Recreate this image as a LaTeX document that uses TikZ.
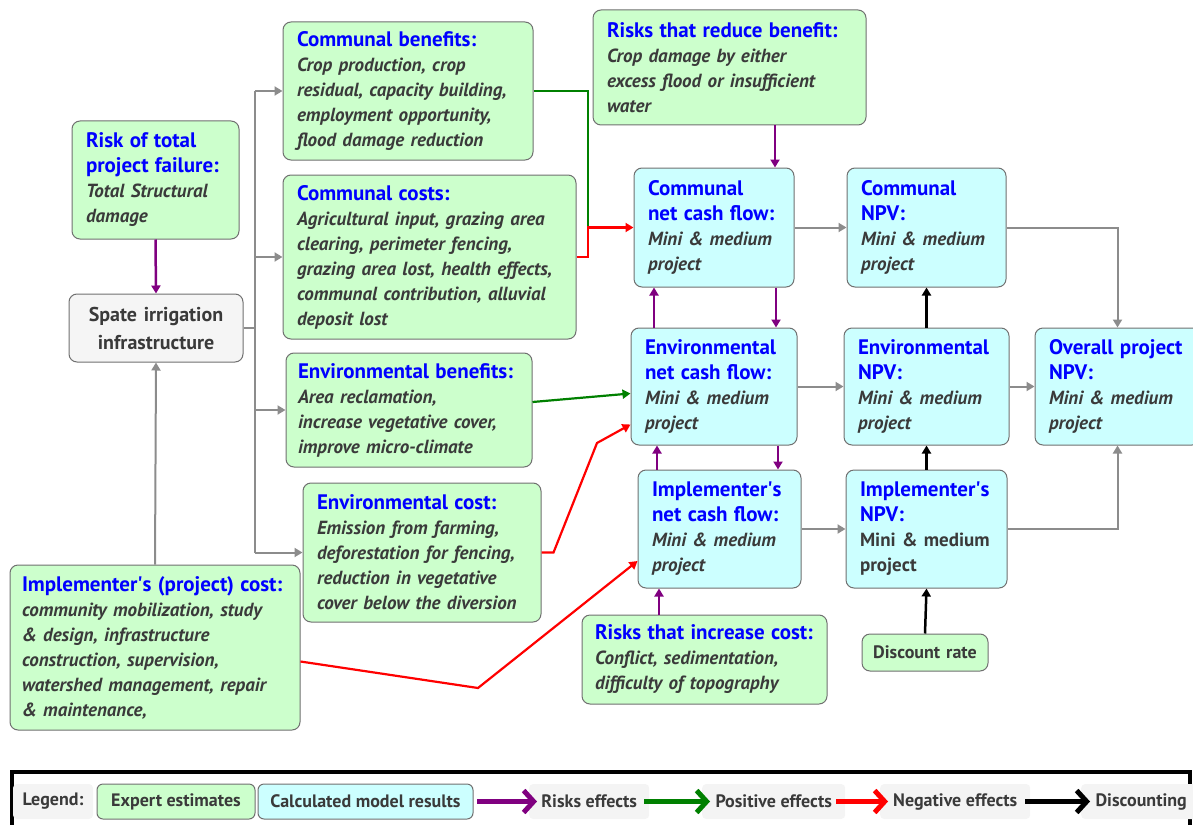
\documentclass[tikz,border=0pt]{standalone}
\usepackage{fontspec}
\setmainfont{PT Sans}
\usetikzlibrary{arrows.meta,calc}
\definecolor{expg}{HTML}{CCFFCC}
\definecolor{calcc}{HTML}{CCFFFF}
\definecolor{bord}{HTML}{707070}
\definecolor{tblue}{HTML}{0000FF}
\definecolor{txt}{HTML}{3A3A3A}
\definecolor{gline}{HTML}{8C8C8C}
\definecolor{riskc}{HTML}{800080}
\definecolor{posg}{HTML}{008000}
\definecolor{negr}{HTML}{FF0000}
\definecolor{spbg}{HTML}{F5F5F5}
\definecolor{lgbg}{HTML}{F4F4F4}
\newcommand\ttl[1]{{\fontsize{21}{25}\selectfont\upshape\color{tblue}#1}}
\newcommand\apo{\textquotesingle}
\begin{document}
\begin{tikzpicture}[x=1pt,y=-1pt,
  box/.style={draw=bord, line width=1pt, rounded corners=8pt, align=left,
    inner xsep=14pt, inner ysep=0pt, text=txt,
    font=\fontsize{19}{25}\selectfont\bfseries\itshape},
  gbox/.style={box, fill=expg},
  cbox/.style={box, fill=calcc},
  tip/.style={-{Triangle[length=8pt,width=9pt]}},
  grayarr/.style={draw=gline, line width=2pt},
  riskarr/.style={draw=riskc, line width=2.5pt, tip},
  posarr/.style={draw=posg, line width=2.2pt},
  negarr/.style={draw=negr, line width=2.2pt},
  discarr/.style={draw=black, line width=2.5pt, tip},
  legarr/.style={line width=5pt, -{Straight Barb[length=10pt,width=22pt]}},
  legtxt/.style={fill=lgbg, rounded corners=4pt, inner xsep=9pt, minimum height=35pt, text=txt,
    font=\fontsize{18}{20}\selectfont\bfseries},
  legbox/.style={draw=bord, line width=1pt, rounded corners=6pt, inner xsep=0pt, minimum height=35pt,
    text=txt, align=center, font=\fontsize{18}{20}\selectfont\bfseries}
]
\useasboundingbox (0,0) rectangle (1193,824);
\clip (0,0) rectangle (1193,824);

% ---------- nodes ----------
\node[gbox, text width=139pt, minimum height=118pt] (risk) at (155.5,180)
  {\ttl{Risk of total\\project failure:}\\Total Structural\\damage};
\node[box, fill=spbg, text width=150pt, minimum height=68pt, inner xsep=12pt, align=center,
  font=\fontsize{20}{28}\selectfont\bfseries] (spate) at (156,328)
  {Spate irrigation\\infrastructure};
\node[gbox, text width=222pt, minimum height=138pt] (cben) at (408,91)
  {\ttl{Communal benefits:}\\Crop production, crop\\residual, capacity building,\\employment opportunity,\\flood damage reduction};
\node[gbox, text width=265pt, minimum height=164pt] (ccost) at (429.5,257)
  {\ttl{Communal costs:}\\Agricultural input, grazing area\\clearing, perimeter fencing,\\grazing area lost, health effects,\\communal contribution, alluvial\\deposit lost};
\node[gbox, text width=222pt, minimum height=114pt, inner xsep=12pt] (eben) at (409,410)
  {\ttl{Environmental benefits:}\\Area reclamation,\\increase vegetative cover,\\improve micro-climate};
\node[gbox, text width=210pt, minimum height=139pt] (ecost) at (422,552.5)
  {\ttl{Environmental cost:}\\Emission from farming,\\deforestation for fencing,\\reduction in vegetative\\cover below the diversion};
\node[gbox, text width=266pt, minimum height=165pt, inner xsep=12pt] (icost) at (155,647.5)
  {\ttl{Implementer\apo s (project) cost:}\\community mobilization, study\\\& design, infrastructure\\construction, supervision,\\watershed management, repair\\\& maintenance,};
\node[gbox, text width=245pt, minimum height=115pt] (rrb) at (729.5,67.5)
  {\ttl{Risks that reduce benefit:}\\Crop damage by either\\excess flood or insufficient\\water};
\node[cbox, text width=132pt, minimum height=119pt] (cncf) at (714,227.5)
  {\ttl{Communal\\net cash flow:}\\Mini \& medium\\project};
\node[cbox, text width=138pt, minimum height=117pt] (encf) at (714,386.5)
  {\ttl{Environmental\\net cash flow:}\\Mini \& medium\\project};
\node[cbox, text width=135pt, minimum height=118pt] (incf) at (719.5,529)
  {\ttl{Implementer\apo s\\net cash flow:}\\Mini \& medium\\project};
\node[gbox, text width=231pt, minimum height=89pt, inner xsep=7pt] (ric) at (704.5,659.5)
  {\hspace*{6pt}\ttl{Risks that increase cost:}\\\hspace*{6pt}Conflict, sedimentation,\\\hspace*{6pt}difficulty of topography};
\node[cbox, text width=131pt, minimum height=119pt] (cnpv) at (926.5,227.5)
  {\ttl{Communal\\NPV:}\\Mini \& medium\\project};
\node[cbox, text width=137pt, minimum height=117pt] (enpv) at (926.5,386.5)
  {\ttl{Environmental\\NPV:}\\Mini \& medium\\project};
\node[cbox, text width=133pt, minimum height=118pt] (inpv) at (926.5,529)
  {\ttl{Implementer\apo s\\NPV:}\\\upshape Mini \& medium\\project};
\node[cbox, text width=137pt, minimum height=117pt] (onpv) at (1117.5,386.5)
  {\ttl{Overall project\\NPV:}\\Mini \& medium\\project};
\node[gbox, text width=110pt, minimum height=37pt, inner xsep=8pt, align=center,
  font=\fontsize{18}{20}\selectfont\bfseries] (disc) at (925,652.5) {Discount rate};

% ---------- helper coordinates ----------
\coordinate (trunk) at (255,328);
\coordinate (jc) at (588,227.5);
\coordinate (xa) at (654,0);
\coordinate (xb) at (776,0);
\coordinate (xc) at (657,0);
\coordinate (xd) at (778,0);
\coordinate (xe) at (659,0);
\coordinate (xr) at (775,0);
\coordinate (eb1) at (597,443);
\coordinate (ic1) at (478,688);

% ---------- connectors ----------
\draw[grayarr] (spate.east) -- (trunk);
\draw[grayarr] (trunk |- cben.west) -- (trunk |- ecost.west);
\draw[grayarr, tip] (trunk |- cben.west) -- (cben.west);
\draw[grayarr, tip] (trunk |- ccost.west) -- (ccost.west);
\draw[grayarr, tip] (trunk |- eben.west) -- (eben.west);
\draw[grayarr, tip] (trunk |- ecost.west) -- (ecost.west);
\draw[grayarr, tip] (icost.north) -- (spate.south);
\draw[riskarr] (risk.south) -- (spate.north);

\draw[posarr] (cben.east) -| (jc);
\draw[negarr, tip] (ccost.east) -| (jc) -- (cncf.west);
\draw[riskarr] (xr |- rrb.south) -- (xr |- cncf.north);
\draw[riskarr] (xa |- encf.north) -- (xa |- cncf.south);
\draw[riskarr] (xb |- cncf.south) -- (xb |- encf.north);
\draw[riskarr] (xc |- incf.north) -- (xc |- encf.south);
\draw[riskarr] (xd |- encf.south) -- (xd |- incf.north);
\draw[riskarr] (xe |- ric.north) -- (xe |- incf.south);

\draw[posarr, tip] ($(eben.east)+(0,-8)$) -- ($(encf.west)+(0,7)$);
\draw[negarr, tip] (ecost.east) -- ++(12,0) -- (eb1) -- ($(encf.west)+(0,38)$);
\draw[negarr, tip] ($(icost.east)+(0,14)$) -- (ic1) -- ($(incf.west)+(0,32)$);

\draw[grayarr, tip] (cncf.east) -- (cnpv.west);
\draw[grayarr, tip] (encf.east) -- (enpv.west);
\draw[grayarr, tip] (incf.east) -- (inpv.west);
\draw[grayarr, tip] (cnpv.east) -| (onpv.north);
\draw[grayarr, tip] (enpv.east) -- (onpv.west);
\draw[grayarr, tip] (inpv.east) -| (onpv.south);

\draw[discarr] (enpv.north) -- (cnpv.south);
\draw[discarr] (inpv.north) -- (enpv.south);
\draw[discarr] (disc.north) -- (inpv.south);

% ---------- legend ----------
\draw[line width=3.5pt] (12,772) rectangle (1190,850);
\node[legtxt, minimum width=80pt] (lgl) at (53,801.5) {Legend:};
\node[legbox, fill=expg, minimum width=158pt] (lge) at (176,801.5) {Expert estimates};
\node[legbox, fill=calcc, minimum width=215pt] (lgc) at (365.5,801.5) {Calculated model results};
\node[legtxt, anchor=west, minimum width=120pt] (lgr) at (529,801.5) {Risks effects};
\node[legtxt, anchor=west, minimum width=143pt] (lgp) at (702,801.5) {Positive effects};
\node[legtxt, anchor=west, minimum width=150pt] (lgn) at (880,801.5) {Negative effects};
\node[legtxt, anchor=west, minimum width=120pt] (lgd) at (1081,801.5) {Discounting};
\coordinate (la) at (477,801.5);
\coordinate (lb) at (644,801.5);
\coordinate (lc) at (836,801.5);
\coordinate (ld) at (1025,801.5);
\draw[legarr, draw=riskc] (la) -- ($(lgr.west)+(8,0)$);
\draw[legarr, draw=posg] (lb) -- ($(lgp.west)+(8,0)$);
\draw[legarr, draw=negr] (lc) -- ($(lgn.west)+(8,0)$);
\draw[legarr, draw=black] (ld) -- ($(lgd.west)+(9,0)$);
\end{tikzpicture}
\end{document}
